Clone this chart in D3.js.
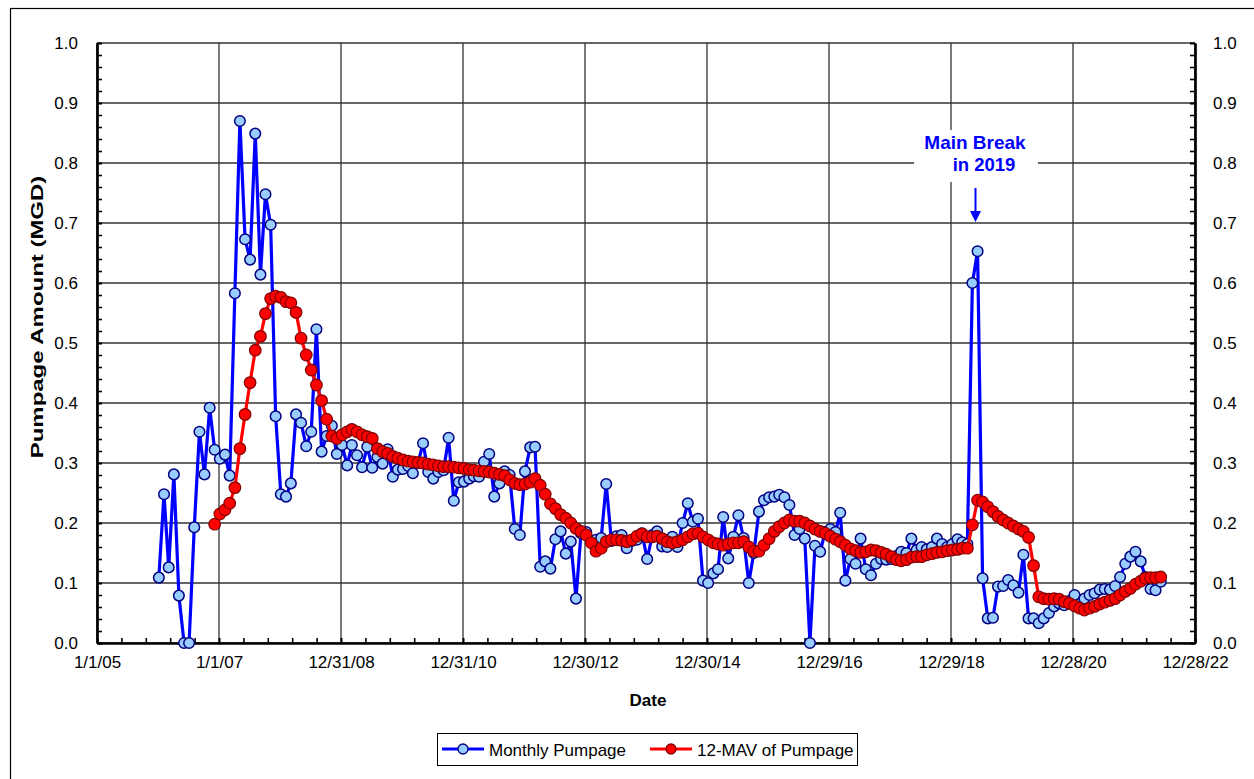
<!DOCTYPE html>
<html>
<head>
<meta charset="utf-8">
<script src="https://cdn.jsdelivr.net/npm/d3@7/dist/d3.min.js"></script>
<style>
  body { margin: 0; background: #fff; }
  text { font-family: "Liberation Sans", Arial, sans-serif; }
</style>
</head>
<body>
<script>
// monthly values, Jan 2006 .. Jun 2022 (MGD)
var monthlyPumpage = [
  0.109, 0.248, 0.126, 0.281, 0.079, 0.000, 0.000, 0.193, 0.352, 0.281, 0.392, 0.322,
  0.307, 0.314, 0.279, 0.583, 0.870, 0.673, 0.639, 0.849, 0.614, 0.748, 0.697, 0.378,
  0.248, 0.244, 0.266, 0.381, 0.367, 0.328, 0.352, 0.523, 0.319, 0.345, 0.362, 0.315,
  0.330, 0.296, 0.330, 0.313, 0.293, 0.327, 0.292, 0.310, 0.299, 0.323, 0.277, 0.289,
  0.290, 0.295, 0.283, 0.300, 0.333, 0.285, 0.274, 0.285, 0.288, 0.342, 0.237, 0.268,
  0.269, 0.274, 0.278, 0.277, 0.302, 0.315, 0.244, 0.266, 0.286, 0.280, 0.190, 0.180,
  0.286, 0.326, 0.327, 0.127, 0.136, 0.124, 0.173, 0.186, 0.149, 0.169, 0.074, 0.183,
  0.185, 0.170, 0.172, 0.175, 0.265, 0.170, 0.178, 0.180, 0.158, 0.170, 0.172, 0.183,
  0.140, 0.180, 0.186, 0.161, 0.160, 0.177, 0.160, 0.200, 0.233, 0.202, 0.207, 0.104,
  0.100, 0.116, 0.123, 0.210, 0.141, 0.177, 0.213, 0.175, 0.100, 0.150, 0.219, 0.238,
  0.243, 0.244, 0.247, 0.243, 0.230, 0.180, 0.190, 0.174, 0.000, 0.162, 0.152, 0.185,
  0.190, 0.185, 0.217, 0.104, 0.140, 0.132, 0.174, 0.123, 0.113, 0.132, 0.140, 0.139,
  0.140, 0.145, 0.152, 0.150, 0.174, 0.155, 0.160, 0.156, 0.160, 0.174, 0.165, 0.160,
  0.165, 0.173, 0.168, 0.165, 0.600, 0.653, 0.108, 0.041, 0.042, 0.094, 0.095, 0.105,
  0.096, 0.084, 0.147, 0.041, 0.041, 0.033, 0.041, 0.050, 0.061, 0.066, 0.063, 0.070,
  0.080, 0.065, 0.074, 0.080, 0.083, 0.089, 0.090, 0.089, 0.095, 0.110, 0.132, 0.144,
  0.152, 0.136, 0.110, 0.090, 0.088, 0.102
];

// 12-month moving average, Dec 2006 .. Jun 2022
var mavPumpage = [
  0.198,
  0.215, 0.222, 0.233, 0.259, 0.324, 0.381, 0.434, 0.488, 0.511, 0.549, 0.574, 0.578,
  0.576, 0.569, 0.567, 0.551, 0.508, 0.480, 0.455, 0.430, 0.404, 0.373, 0.345, 0.341,
  0.347, 0.352, 0.356, 0.352, 0.347, 0.344, 0.341, 0.324, 0.319, 0.316, 0.311, 0.308,
  0.305, 0.303, 0.302, 0.301, 0.300, 0.298, 0.297, 0.295, 0.294, 0.294, 0.293, 0.292,
  0.291, 0.289, 0.288, 0.287, 0.286, 0.285, 0.283, 0.281, 0.279, 0.272, 0.266, 0.264,
  0.265, 0.268, 0.274, 0.263, 0.248, 0.232, 0.224, 0.214, 0.208, 0.200, 0.191, 0.186,
  0.180, 0.167, 0.153, 0.158, 0.169, 0.172, 0.172, 0.171, 0.169, 0.172, 0.178, 0.182,
  0.177, 0.177, 0.178, 0.174, 0.169, 0.167, 0.169, 0.172, 0.177, 0.182, 0.183, 0.177,
  0.172, 0.167, 0.165, 0.163, 0.165, 0.167, 0.167, 0.169, 0.160, 0.153, 0.153, 0.163,
  0.174, 0.186, 0.194, 0.200, 0.205, 0.203, 0.203, 0.200, 0.195, 0.190, 0.186, 0.183,
  0.178, 0.173, 0.169, 0.163, 0.157, 0.154, 0.151, 0.152, 0.155, 0.154, 0.151, 0.148,
  0.144, 0.139, 0.137, 0.139, 0.143, 0.144, 0.144, 0.147, 0.149, 0.151, 0.152, 0.154,
  0.155, 0.156, 0.158, 0.158, 0.197, 0.238, 0.235, 0.227, 0.219, 0.211, 0.205, 0.200,
  0.195, 0.190, 0.186, 0.176, 0.129, 0.077, 0.074, 0.073, 0.074, 0.073, 0.069, 0.066,
  0.062, 0.058, 0.055, 0.058, 0.061, 0.065, 0.068, 0.071, 0.074, 0.080, 0.086, 0.091,
  0.098, 0.103, 0.108, 0.109, 0.109, 0.110
];

var firstMonth = "2006-01-06";
var mavOffset = 11;   // first moving average sits on the 12th month

var xTickLabels = ["1/1/05", "1/1/07", "12/31/08", "12/31/10", "12/30/12",
                   "12/30/14", "12/29/16", "12/29/18", "12/28/20", "12/28/22"];
var yTicks = [0, 0.1, 0.2, 0.3, 0.4, 0.5, 0.6, 0.7, 0.8, 0.9, 1.0];

var seriesNames = ["Monthly Pumpage", "12-MAV of Pumpage"];

var margin = {top: 43, left: 97, right: 1195, bottom: 643};

var svg = d3.select("body").append("svg")
    .attr("width", 1254)
    .attr("height", 779);

// outer chart border (right and bottom edges fall off the picture)
svg.append("rect")
    .attr("x", 10.5).attr("y", 8.5)
    .attr("width", 1260).attr("height", 800)
    .attr("fill", "none")
    .attr("stroke", "#000")
    .attr("stroke-width", 1.2);

var parseTick = d3.utcParse("%m/%d/%y");
var tickDates = xTickLabels.map(function(s){ return parseTick(s); });

var x = d3.scaleUtc()
    .domain([tickDates[0], tickDates[tickDates.length - 1]])
    .range([margin.left, margin.right]);

var y = d3.scaleLinear()
    .domain([0, 1])
    .range([margin.bottom, margin.top]);

var start = d3.utcParse("%Y-%m-%d")(firstMonth);
var monthDate = function(i){ return d3.utcMonth.offset(start, i); };

// grid
var grid = svg.append("g");
yTicks.forEach(function(v){
    grid.append("line")
        .attr("x1", margin.left).attr("x2", margin.right)
        .attr("y1", y(v)).attr("y2", y(v))
        .attr("stroke", "#333").attr("stroke-width", 1.3);
});
tickDates.forEach(function(d){
    grid.append("line")
        .attr("x1", x(d)).attr("x2", x(d))
        .attr("y1", margin.top).attr("y2", margin.bottom)
        .attr("stroke", "#333").attr("stroke-width", 1.3);
});

// minor ticks: 0.02 on y, 146 days on x
var yMinor = d3.range(0, 51).map(function(k){ return k / 50; });
var xMinor = d3.range(0, 46).map(function(k){ return d3.utcDay.offset(tickDates[0], 146 * k); });

function styleAxis(g){
    g.select(".domain").attr("stroke", "#000").attr("stroke-width", 2.2);
    g.selectAll(".tick line").attr("stroke", "#000").attr("stroke-width", 1.6);
    g.selectAll("text").attr("font-size", 17).attr("fill", "#000")
        .attr("font-family", "'Liberation Sans', Arial, sans-serif");
}

svg.append("g")
    .attr("transform", "translate(" + margin.left + ",0)")
    .call(d3.axisLeft(y).tickValues(yMinor).tickFormat("").tickSizeInner(-5).tickSizeOuter(0))
    .call(styleAxis);
svg.append("g")
    .attr("transform", "translate(" + margin.left + ",0)")
    .call(d3.axisLeft(y).tickValues(yTicks).tickFormat(d3.format(".1f")).tickSizeInner(-5).tickSizeOuter(0).tickPadding(19))
    .call(styleAxis);

svg.append("g")
    .attr("transform", "translate(" + margin.right + ",0)")
    .call(d3.axisRight(y).tickValues(yMinor).tickFormat("").tickSizeInner(-5).tickSizeOuter(0))
    .call(styleAxis);
svg.append("g")
    .attr("transform", "translate(" + margin.right + ",0)")
    .call(d3.axisRight(y).tickValues(yTicks).tickFormat(d3.format(".1f")).tickSizeInner(-5).tickSizeOuter(0).tickPadding(18))
    .call(styleAxis);

svg.append("g")
    .attr("transform", "translate(0," + margin.bottom + ")")
    .call(d3.axisBottom(x).tickValues(xMinor).tickFormat("").tickSizeInner(-5).tickSizeOuter(0))
    .call(styleAxis);
svg.append("g")
    .attr("transform", "translate(0," + margin.bottom + ")")
    .call(d3.axisBottom(x).tickValues(tickDates)
        .tickFormat(function(d, i){ return xTickLabels[i]; })
        .tickSizeInner(-5).tickSizeOuter(0).tickPadding(13))
    .call(styleAxis);

// axis titles
svg.append("text")
    .attr("x", 648).attr("y", 706)
    .attr("text-anchor", "middle")
    .attr("font-size", 17).attr("font-weight", "bold")
    .text("Date");

svg.append("text")
    .attr("transform", "translate(43,317) rotate(-90) scale(1.41,1)")
    .attr("text-anchor", "middle")
    .attr("font-size", 17).attr("font-weight", "bold")
    .text("Pumpage Amount (MGD)");

// series
var blueData = monthlyPumpage.map(function(v, i){ return {date: monthDate(i), value: v}; });
var redData = mavPumpage.map(function(v, i){ return {date: monthDate(i + mavOffset), value: v}; });

var line = d3.line()
    .x(function(d){ return x(d.date); })
    .y(function(d){ return y(d.value); });

svg.append("path")
    .datum(blueData)
    .attr("d", line)
    .attr("fill", "none")
    .attr("stroke", "#0000ff")
    .attr("stroke-width", 3.2)
    .attr("stroke-linejoin", "round");

svg.append("g").selectAll("circle")
    .data(blueData)
    .enter().append("circle")
    .attr("cx", function(d){ return x(d.date); })
    .attr("cy", function(d){ return y(d.value); })
    .attr("r", 5.3)
    .attr("fill", "#99ccff")
    .attr("stroke", "#000080")
    .attr("stroke-width", 1.5);

svg.append("path")
    .datum(redData)
    .attr("d", line)
    .attr("fill", "none")
    .attr("stroke", "#ff0000")
    .attr("stroke-width", 3.2)
    .attr("stroke-linejoin", "round");

svg.append("g").selectAll("circle")
    .data(redData)
    .enter().append("circle")
    .attr("cx", function(d){ return x(d.date); })
    .attr("cy", function(d){ return y(d.value); })
    .attr("r", 5.8)
    .attr("fill", "#ff0000")
    .attr("stroke", "#800000")
    .attr("stroke-width", 1.2);

// annotation
var note = svg.append("g");
note.append("rect")
    .attr("x", 914).attr("y", 130)
    .attr("width", 124).attr("height", 52)
    .attr("fill", "#fff");
note.append("text")
    .attr("x", 975).attr("y", 149)
    .attr("text-anchor", "middle")
    .attr("font-size", 19).attr("font-weight", "bold")
    .attr("fill", "#0000ff")
    .text("Main Break");
note.append("text")
    .attr("x", 984).attr("y", 171)
    .attr("text-anchor", "middle")
    .attr("font-size", 18.5).attr("font-weight", "bold")
    .attr("fill", "#0000ff")
    .text("in 2019");
note.append("line")
    .attr("x1", 975.5).attr("x2", 975.5)
    .attr("y1", 188).attr("y2", 213)
    .attr("stroke", "#0000ff").attr("stroke-width", 2);
note.append("path")
    .attr("d", "M970,211 L981,211 L975.5,222 Z")
    .attr("fill", "#0000ff");

// legend
var legend = svg.append("g");
legend.append("rect")
    .attr("x", 437.5).attr("y", 733.5)
    .attr("width", 420).attr("height", 32)
    .attr("fill", "#fff")
    .attr("stroke", "#000")
    .attr("stroke-width", 1);

var legendItems = [
    {x: 442, stroke: "#0000ff", fill: "#99ccff", edge: "#000080"},
    {x: 650, stroke: "#ff0000", fill: "#ff0000", edge: "#800000"}
];
legendItems.forEach(function(it, i){
    legend.append("line")
        .attr("x1", it.x).attr("x2", it.x + 42)
        .attr("y1", 749).attr("y2", 749)
        .attr("stroke", it.stroke).attr("stroke-width", 3);
    legend.append("circle")
        .attr("cx", it.x + 21).attr("cy", 749)
        .attr("r", 5)
        .attr("fill", it.fill)
        .attr("stroke", it.edge)
        .attr("stroke-width", 1.3);
    legend.append("text")
        .attr("x", it.x + 47).attr("y", 755.5)
        .attr("font-size", 17)
        .text(seriesNames[i]);
});
</script>
</body>
</html>
